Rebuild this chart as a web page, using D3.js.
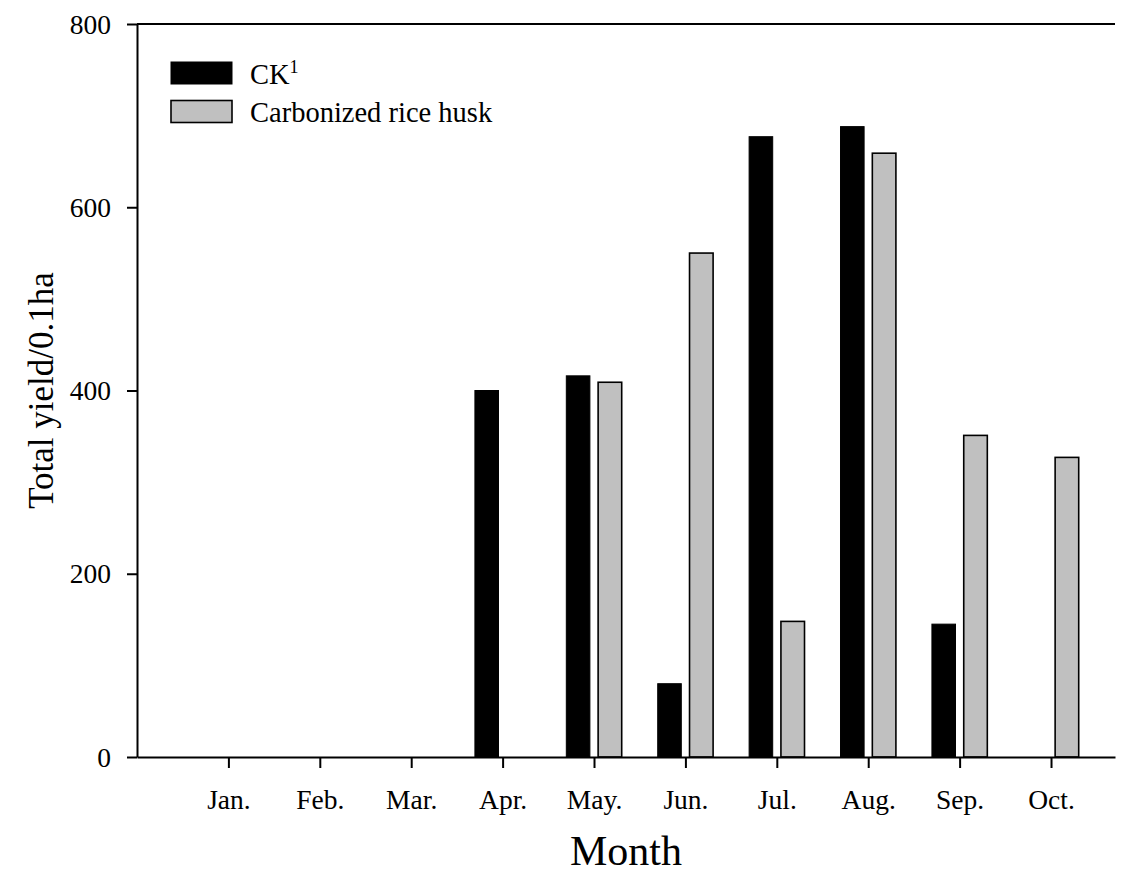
<!DOCTYPE html>
<html>
<head>
<meta charset="utf-8">
<script src="https://cdn.jsdelivr.net/npm/d3@7"></script>
<style>
  body { margin: 0; background: #fff; }
  text { font-family: "Liberation Serif", "Times New Roman", serif; fill: #000; }
</style>
</head>
<body>
<div id="chart"></div>
<script>
const months = ["Jan.", "Feb.", "Mar.", "Apr.", "May.", "Jun.", "Jul.", "Aug.", "Sep.", "Oct."];
const ck = [0, 0, 0, 400, 416, 80, 677, 688, 145, 0];
const riceHusk = [0, 0, 0, 0, 409, 550, 148, 659, 351, 327];
const yTicks = [0, 200, 400, 600, 800];

const W = 1132, H = 874;
const plot = { left: 137, right: 1115, top: 24, bottom: 757 };

const svg = d3.select("#chart")
  .append("svg")
  .attr("width", W)
  .attr("height", H);

const x = d3.scaleLinear().domain([0, 10.7]).range([plot.left, plot.right]);
const y = d3.scaleLinear().domain([0, 800]).range([plot.bottom, plot.top]);

const gap = 0.045, bw = 0.258;

const series = [
  { name: "CK", values: ck, fill: "#000", off: -gap - bw, sw: 1 },
  { name: "Carbonized rice husk", values: riceHusk, fill: "#c0c0c0", off: gap, sw: 1.6 }
];

// bars
series.forEach(s => {
  svg.append("g")
    .selectAll("rect")
    .data(s.values.map((v, i) => ({ v, i })).filter(d => d.v > 0))
    .enter()
    .append("rect")
    .attr("x", d => x(d.i + 1 + s.off))
    .attr("width", x(bw) - x(0))
    .attr("y", d => y(d.v))
    .attr("height", d => y(0) - y(d.v))
    .attr("fill", s.fill)
    .attr("stroke", "#000")
    .attr("stroke-width", s.sw);
});

// top frame line
svg.append("line")
  .attr("x1", plot.left).attr("x2", plot.right)
  .attr("y1", plot.top).attr("y2", plot.top)
  .attr("stroke", "#000").attr("stroke-width", 2);

// y axis
const yAxis = svg.append("g")
  .attr("transform", `translate(${plot.left},0)`)
  .call(d3.axisLeft(y).tickValues(yTicks).tickSize(10).tickSizeOuter(0).tickPadding(16));
yAxis.selectAll("text").style("font-size", "27.5px").attr("dy", "0.33em");

// x axis
const xAxis = svg.append("g")
  .attr("transform", `translate(0,${plot.bottom})`)
  .call(d3.axisBottom(x).tickValues(d3.range(1, 11)).tickFormat(d => months[d - 1])
    .tickSize(11).tickSizeOuter(0).tickPadding(21));
xAxis.selectAll("text").style("font-size", "27.5px");

svg.selectAll(".domain, .tick line").attr("stroke", "#000").attr("stroke-width", 2);

// axis titles
svg.append("text")
  .attr("x", (plot.left + plot.right) / 2)
  .attr("y", 865)
  .attr("text-anchor", "middle")
  .style("font-size", "42px")
  .text("Month");

svg.append("text")
  .attr("transform", `translate(53,${(plot.top + plot.bottom) / 2}) rotate(-90)`)
  .attr("text-anchor", "middle")
  .style("font-size", "35px")
  .text("Total yield/0.1ha");

// legend
const legend = svg.append("g");
series.forEach((s, i) => {
  const g = legend.append("g").attr("transform", `translate(171,${62 + i * 38.5})`);
  g.append("rect")
    .attr("width", 61).attr("height", 22)
    .attr("fill", s.fill)
    .attr("stroke", "#000")
    .attr("stroke-width", s.sw);
  const t = g.append("text")
    .attr("x", 79).attr("y", 21.5)
    .style("font-size", "28.5px")
    .text(s.name);
  if (i === 0) {
    t.append("tspan")
      .attr("dy", -11)
      .style("font-size", "18px")
      .text("1");
  }
});
</script>
</body>
</html>
